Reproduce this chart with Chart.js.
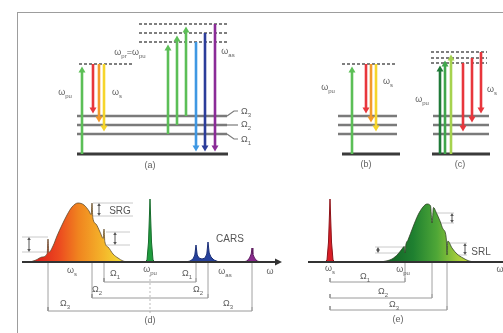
<!DOCTYPE html>
<html><head><meta charset="utf-8">
<script src="https://cdn.jsdelivr.net/npm/chart.js@4.4.1/dist/chart.umd.min.js"></script>
<style>
html,body{margin:0;padding:0;background:#fff;}
body{width:503px;height:333px;position:relative;overflow:hidden;}
#frame{position:absolute;left:17px;top:12px;right:-2px;bottom:-2px;border-top:1px solid #9d9d9d;border-left:1px solid #9d9d9d;}
.box{position:absolute;}
</style></head><body>
<div id="frame"></div>
<div class="box" style="left:0;top:0;width:503px;height:175px;"><canvas id="cTop"></canvas></div>
<div class="box" style="left:0;top:170px;width:290px;height:163px;"><canvas id="cD"></canvas></div>
<div class="box" style="left:290px;top:170px;width:213px;height:163px;"><canvas id="cE"></canvas></div>
<script>
// ================= DATA =================
// Energy-level diagrams (a)-(c): energy above the ground state (arb. units)
const groundLevel = 0;
const vibLevels = [20, 29, 38];              // Ω1, Ω2, Ω3
const virtualPump = 90;                      // virtual level of ω_pu in (a), (b)
const virtualAntiStokes = [112, 121, 130];   // probe virtual levels in (a)
const virtualC = [91, 96, 102];              // virtual levels in (c)

// transitions: start energy, end energy, kind
const transFrom = [0, 90, 90, 90, 20, 29, 38, 112, 121, 130, 0, 90, 90, 90, 0, 0, 0, 91, 96, 102];
const transTo   = [90, 38, 29, 20, 112, 121, 130, 0, 0, 0, 90, 38, 29, 20, 91, 96, 102, 20, 29, 38];
const transKind = ['pump','red','orange','yellow','pump','pump','pump','as1','as2','as3',
                   'pump','red','orange','yellow','pumpC1','pumpC2','pumpC3','red','red','red'];

// Spectrum (d): frequency relative to ω_pu, intensity (arb.)
const ramanShiftD = [46, 58, 102];           // Ω1, Ω2, Ω3
const stokesD = [[-120,0],[-114,2],[-108,5],[-102.8,8.6],[-102,23],[-101.2,9.6],[-97,16],[-93,26],[-88,37],
  [-83,47],[-78,55],[-72,59],[-66,57],[-61,51],[-58.8,47.3],[-58,59],[-57.2,44.4],[-54,38],[-50,30],
  [-46.8,23.6],[-46,33],[-45.2,20.6],[-42,15],[-37,8],[-32,4],[-27,1],[-23,0]];
const pumpD = [[-5,0],[-3,2],[-1.5,20],[0,63],[1.5,20],[3,2],[5,0]];
const carsBlue = [[36,0],[40,1],[43,3],[44.8,7],[46,17],[47.2,7],[49,4],[52,3],[55,4],[56.8,8],[58,20],[59.2,9],[61,5],[64,2],[69,0]];
const carsPurple = [[93,0],[97,1],[99.5,4],[101.2,8],[102,14],[102.8,8],[104.5,4],[107,1],[111,0]];
const srgLo = [17, 46, 10];                  // gain bars for Ω1, Ω2, Ω3
const srgHi = [30, 59, 25];

// Spectrum (e): frequency relative to ω_s
const ramanShiftE = [75, 102, 117];
const stokesE = [[-5,0],[-3,2],[-1.5,20],[0,63],[1.5,20],[3,2],[5,0]];
const pumpE = [[50,0],[56,1],[62,3],[68,8],[72,13],[74.2,15.5],[75,9],[75.8,16.8],[78,22],[83,35],[88,47],
  [93,55],[97,58],[100.5,56.2],[102,39],[103.5,54.5],[106,50],[110,41],[113,33],[116.2,24.5],[117,7],[117.8,21],
  [122,14],[127,8],[133,4],[139,1],[145,0]];
const srlLo = [9, 39, 7];
const srlHi = [15, 49, 19];

// Text
const topLabelText = ['ω_pu','ω_s','ω_pr=ω_pu','ω_as','Ω_3','Ω_2','Ω_1','(a)','ω_pu','ω_s','(b)','ω_pu','ω_s','(c)'];
const labelTextD = ['ω_s','Ω_1','ω_pu','Ω_1','ω_as','ω','Ω_2','Ω_2','Ω_3','Ω_3','(d)','SRG','CARS'];
const labelTextE = ['ω_s','Ω_1','ω_pu','ω','Ω_2','Ω_3','(e)','SRL'];

// ================= LAYOUT / STYLE =================
const transCol = [82, 93, 99, 104, 168, 177, 186, 196, 205, 215, 352, 366, 371, 376, 440, 445, 451, 463, 472, 481];
const kindColor = {pump:'#5cbf57', red:'#e8363c', orange:'#f39a2c', yellow:'#f6d52b', as1:'#3f98e3', as2:'#2c3d9a',
  as3:'#8b2b97', pumpC1:'#1f7a38', pumpC2:'#3fa64b', pumpC3:'#a6d24f'};
const spanA = [77, 227], spanVA1 = [79, 134], spanVA2 = [139, 228];
const spanB = [338, 397], spanGB = [342, 400], spanVB = [342, 397];
const spanC = [433, 489], spanGC = [432, 490], spanVC = [431, 487];
const omegaTagE = [15, 29, 43];
const topLabelX = [65, 117, 130, 228, 246, 246, 246, 150, 328, 388, 366, 422, 492, 460];
const topLabelY = [61, 61, 101, 102, 42, 29, 14, -12, 66, 72, -11, 54, 64, -11];
const labelXD = [-78,-35,0,37,75,120,-53,48,-85,78,0,-30,80];
const labelYD = [-9,-12,-8,-12,-10,-10,-28,-28,-42,-42,-59,51,23];
const labelXE = [0,35,73,170,53,64,68,151];
const labelYE = [-7,-15,-8,-8,-30,-43,-58,10];
const bracketRowD = [-20, -36, -49];
const bracketRowE = [-20, -36, -48];
const barXD = [-35, -51, -121], barSpanD = [[-44,-20],[-57,-17],[-128,-102]];
const barXE = [48, 122, 135], barSpanE = [[45,75],[107,124],[117,137]];

const FONT = '"Liberation Sans", Arial, sans-serif';
const TXT = '#5f5f5f';

function drawRich(ctx, px, py, text, size, color) {
  const parts = []; const re = /_([a-z0-9]+)|[^_]+/g; let m;
  while ((m = re.exec(text))) parts.push({t: m[1] !== undefined ? m[1] : m[0], sub: m[1] !== undefined});
  const subSize = Math.round(size * 0.68);
  let total = 0;
  parts.forEach(p => { ctx.font = (p.sub ? subSize : size) + 'px ' + FONT; p.w = ctx.measureText(p.t).width; total += p.w; });
  let x = px - total / 2;
  ctx.fillStyle = color; ctx.textBaseline = 'middle'; ctx.textAlign = 'left';
  parts.forEach(p => { ctx.font = (p.sub ? subSize : size) + 'px ' + FONT; ctx.fillText(p.t, x, p.sub ? py + size * 0.32 : py); x += p.w; });
}
function labelPlugin(texts, xs, ys) {
  return { id: 'labels', afterDatasetsDraw(chart) {
    const ctx = chart.ctx, sx = chart.scales.x, sy = chart.scales.y; ctx.save();
    texts.forEach((t, i) => {
      const big = /^(SRG|CARS|SRL)$/.test(t);
      drawRich(ctx, sx.getPixelForValue(xs[i]), sy.getPixelForValue(ys[i]), t, big ? 10 : 9, big ? '#555' : TXT);
    });
    ctx.restore();
  }};
}
const arrowPlugin = { id: 'arrows', afterDatasetsDraw(chart) {
  const ctx = chart.ctx; ctx.save();
  chart.data.datasets.forEach((ds, i) => {
    const a = ds.arrow; if (!a) return;
    const pts = chart.getDatasetMeta(i).data; if (pts.length < 2) return;
    const p0 = pts[0], p1 = pts[1];
    const dx = p1.x - p0.x, dy = p1.y - p0.y, L = Math.hypot(dx, dy) || 1, ux = dx / L, uy = dy / L;
    const g = a.gap || 0;
    const tip = {x: p1.x - ux * g, y: p1.y - uy * g};
    const st = a.both ? {x: p0.x + ux * g, y: p0.y + uy * g} : {x: p0.x, y: p0.y};
    ctx.strokeStyle = ds.arrowColor; ctx.fillStyle = ds.arrowColor; ctx.lineWidth = a.shaft; ctx.lineCap = 'butt';
    const s = a.both ? {x: st.x + ux * a.len * 0.6, y: st.y + uy * a.len * 0.6} : st;
    const e = {x: tip.x - ux * a.len * 0.6, y: tip.y - uy * a.len * 0.6};
    ctx.beginPath(); ctx.moveTo(s.x, s.y); ctx.lineTo(e.x, e.y); ctx.stroke();
    const head = (t, vx, vy) => {
      const bx = t.x - vx * a.len, by = t.y - vy * a.len, hw = a.width / 2;
      ctx.beginPath(); ctx.moveTo(t.x, t.y); ctx.lineTo(bx - vy * hw, by + vx * hw); ctx.lineTo(bx + vy * hw, by - vx * hw); ctx.closePath(); ctx.fill();
    };
    head(tip, ux, uy); if (a.both) head(st, -ux, -uy);
  });
  ctx.restore();
}};

function makeChart(id, xr, yr, datasets, plugins) {
  return new Chart(document.getElementById(id), {
    type: 'line',
    data: { datasets },
    options: {
      responsive: true, maintainAspectRatio: false, animation: false, events: [],
      layout: { padding: 0, autoPadding: false },
      elements: { point: { radius: 0, hoverRadius: 0 }, line: { tension: 0, borderCapStyle: 'butt' } },
      scales: { x: { type: 'linear', min: xr[0], max: xr[1], display: false },
                y: { type: 'linear', min: yr[0], max: yr[1], display: false } },
      plugins: { legend: { display: false }, tooltip: { enabled: false } }
    },
    plugins: plugins
  });
}
const seg = (pts, color, width, dash, order) => ({ data: pts.map(p => ({x: p[0], y: p[1]})), borderColor: color,
  borderWidth: width, borderDash: dash || [], pointRadius: 0, fill: false, order: order === undefined ? 5 : order });

// ================= TOP: energy diagrams =================
const topSets = [];
const addLevels = (span, gspan) => {
  topSets.push(seg([[gspan[0], groundLevel], [gspan[1], groundLevel]], '#3a3a3a', 3));
  vibLevels.forEach(E => topSets.push(seg([[span[0], E], [span[1], E]], '#7a7a7a', 2.5)));
};
addLevels(spanA, [spanA[0], spanA[1] + 1]);
addLevels(spanB, spanGB);
addLevels(spanC, spanGC);
vibLevels.forEach((E, k) => topSets.push(seg([[spanA[1], E], [spanA[1] + 7, omegaTagE[k]], [spanA[1] + 11, omegaTagE[k]]], '#7a7a7a', 1.2)));
topSets.push(seg([[spanVA1[0], virtualPump], [spanVA1[1], virtualPump]], '#555', 1.5, [3, 2]));
virtualAntiStokes.forEach(E => topSets.push(seg([[spanVA2[0], E], [spanVA2[1], E]], '#555', 1.5, [3, 2])));
topSets.push(seg([[spanVB[0], virtualPump], [spanVB[1], virtualPump]], '#555', 1.5, [3, 2]));
virtualC.forEach(E => topSets.push(seg([[spanVC[0], E], [spanVC[1], E]], '#555', 1.5, [3, 2])));
transCol.forEach((c, i) => {
  topSets.push({ data: [{x: c, y: transFrom[i]}, {x: c, y: transTo[i]}], showLine: false, pointRadius: 0,
    arrowColor: kindColor[transKind[i]], arrow: { shaft: 2.6, len: 6, width: 7, gap: 2.5 } });
});
makeChart('cTop', [0, 503], [-21, 154], topSets, [arrowPlugin, labelPlugin(topLabelText, topLabelX, topLabelY)]);

// ================= gradient helper =================
function gradFill(data, stops) {
  return (ctx) => {
    const ch = ctx.chart; if (!ch.chartArea) return 'rgba(0,0,0,0)';
    const sx = ch.scales.x;
    const g = ch.ctx.createLinearGradient(sx.getPixelForValue(data[0][0]), 0, sx.getPixelForValue(data[data.length - 1][0]), 0);
    stops.forEach(s => g.addColorStop(s[0], s[1]));
    return g;
  };
}
const curve = (data, fillC, border, order, smooth) => ({ data: data.map(p => ({x: p[0], y: p[1]})), fill: 'origin',
  backgroundColor: fillC, borderColor: border, borderWidth: 1, pointRadius: 0, order: order,
  cubicInterpolationMode: smooth ? 'monotone' : 'default', tension: 0 });

// ================= (d) =================
const dd = [];
dd.push(seg([[-128, 0], [128, 0]], '#333', 2, null, 0));
dd.push({ data: [{x: 120, y: 0}, {x: 132, y: 0}], showLine: false, pointRadius: 0, arrowColor: '#333', arrow: { shaft: 2, len: 7, width: 7 } });
dd.push(curve(stokesD, gradFill(stokesD, [[0, '#d9141c'], [0.3, '#ec4a1f'], [0.5, '#f0841f'], [0.75, '#f4b42a'], [1, '#f2e83c']]), 'rgba(90,70,40,0.75)', 3, true));
dd.push(curve(pumpD, '#1f9c3e', '#176b2c', 2, false));
dd.push(curve(carsBlue, '#26419c', '#1b2f78', 2, false));
dd.push(curve(carsPurple, '#8a2a8e', '#5e1d60', 2, false));
ramanShiftD.forEach((om, k) => {
  const r = bracketRowD[k];
  dd.push(seg([[-om, r + 4], [-om, r], [om, r], [om, r + 4]], '#9a9a9a', 1, null, 4));
  dd.push(seg([[-om, 0], [-om, r]], '#c4c4c4', 0.8, null, 4));
  dd.push(seg([[om, 0], [om, r]], '#c4c4c4', 0.8, null, 4));
  const bx = barXD[k], sp = barSpanD[k];
  dd.push(seg([[sp[0], srgLo[k]], [sp[1], srgLo[k]]], '#bdbdbd', 0.8, null, 4));
  dd.push(seg([[sp[0], srgHi[k]], [sp[1], srgHi[k]]], '#bdbdbd', 0.8, null, 4));
  dd.push({ data: [{x: bx, y: srgLo[k]}, {x: bx, y: srgHi[k]}], showLine: false, pointRadius: 0, arrowColor: '#555',
    arrow: { shaft: 1, len: 3, width: 3.5, both: true } });
});
dd.push(seg([[0, -13], [0, -53]], '#aaa', 0.8, [2, 2], 4));
makeChart('cD', [-150, 140], [-71, 92], dd, [arrowPlugin, labelPlugin(labelTextD, labelXD, labelYD)]);

// ================= (e) =================
const ee = [];
ee.push(seg([[-22, 0], [175, 0]], '#333', 2, null, 0));
ee.push(curve(stokesE, '#d91e26', '#8c1218', 2, false));
ee.push(curve(pumpE, gradFill(pumpE, [[0, '#0d5a22'], [0.35, '#1f8030'], [0.6, '#4fa737'], [0.82, '#a5cd3a'], [1, '#d8e43e']]), 'rgba(40,60,30,0.75)', 3, true));
ramanShiftE.forEach((om, k) => {
  const r = bracketRowE[k];
  ee.push(seg([[0, r + 4], [0, r], [om, r], [om, r + 4]], '#9a9a9a', 1, null, 4));
  ee.push(seg([[om, 0], [om, r]], '#c4c4c4', 0.8, null, 4));
  const bx = barXE[k], sp = barSpanE[k];
  ee.push(seg([[sp[0], srlLo[k]], [sp[1], srlLo[k]]], '#bdbdbd', 0.8, null, 4));
  ee.push(seg([[sp[0], srlHi[k]], [sp[1], srlHi[k]]], '#bdbdbd', 0.8, null, 4));
  ee.push({ data: [{x: bx, y: srlLo[k]}, {x: bx, y: srlHi[k]}], showLine: false, pointRadius: 0, arrowColor: '#555',
    arrow: { shaft: 1, len: 3, width: 3.5, both: true } });
});
makeChart('cE', [-40, 173], [-71, 92], ee, [arrowPlugin, labelPlugin(labelTextE, labelXE, labelYE)]);
</script></body></html>
